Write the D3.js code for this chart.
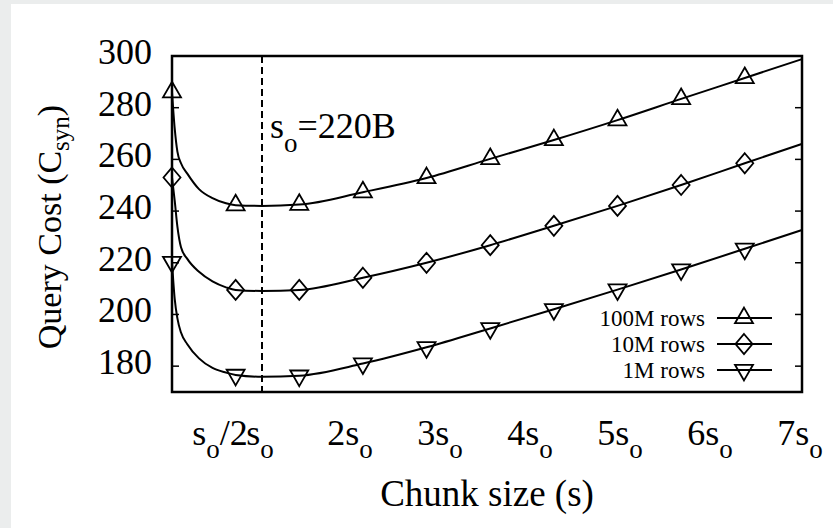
<!DOCTYPE html>
<html>
<head>
<meta charset="utf-8">
<script src="https://cdn.jsdelivr.net/npm/d3@7"></script>
<style>
  html, body { margin: 0; padding: 0; background: #ebeded; }
  svg { display: block; }
  text { font-family: "Liberation Serif", "Times New Roman", serif; fill: #000; }
</style>
</head>
<body>
<svg id="chart" width="833" height="528"></svg>
<script>
// ---- data (x in units of s_o) ----
const xs        = [0, 0.03, 0.06, 0.1, 0.17, 0.3, 0.45, 0.6, 0.707, 1, 1.414, 2.121, 2.828, 3.536, 4.243, 4.95, 5.657, 6.364, 7];
const rows100M  = [286, 272, 263, 258.5, 254.5, 248.5, 245, 243, 242.3, 242, 242.5, 247.3, 252.8, 260.2, 267.5, 275.2, 283.4, 291.5, 298.8];
const rows10M   = [253, 244, 234, 226, 221.5, 216.5, 212.8, 210.5, 209.5, 209.1, 209.5, 214.2, 220, 226.8, 234.3, 242, 250.1, 258.5, 266];
const rows1M    = [220.3, 206, 198.5, 193, 188.5, 183, 179.3, 177.5, 176.6, 175.9, 176.3, 181, 187.3, 194.6, 202, 209.6, 217.4, 225.4, 232.7];
const markerXs  = [0, 0.707, 1.414, 2.121, 2.828, 3.536, 4.243, 4.95, 5.657, 6.364];
const seriesNames = ["100M rows", "10M rows", "1M rows"];
const yTicks    = [180, 200, 220, 240, 260, 280, 300];
const xTickVals = [0.5, 1, 2, 3, 4, 5, 6, 7];
const xTickMain = ["s", "s", "2s", "3s", "4s", "5s", "6s", "7s"];
const xTickSub  = ["o", "o", "o", "o", "o", "o", "o", "o"];
const xTickTail = ["/2", "", "", "", "", "", "", ""];
const soValue   = 1;     // s_o marker line
const soLabel   = "220B";

const svg = d3.select("#chart");
// white panel
svg.append("rect").attr("x", 11).attr("y", 4).attr("width", 822).attr("height", 524).attr("fill", "#ffffff");

const L = 172, R = 802, T = 56, B = 392;
const x = d3.scaleLinear().domain([0, 7]).range([L, R]);
const y = d3.scaleLinear().domain([170, 300]).range([B, T]);

// y tick marks (inward, left and right)
const innerTicks = yTicks.filter(v => v < 300);
svg.append("g").selectAll("line").data(innerTicks).join("line")
  .attr("x1", L).attr("x2", L + 7).attr("y1", d => y(d)).attr("y2", d => y(d))
  .attr("stroke", "#000").attr("stroke-width", 1.5);
svg.append("g").selectAll("line").data(innerTicks).join("line")
  .attr("x1", R).attr("x2", R - 7).attr("y1", d => y(d)).attr("y2", d => y(d))
  .attr("stroke", "#000").attr("stroke-width", 1.5);

// y tick labels
svg.append("g").selectAll("text").data(yTicks).join("text")
  .attr("x", 152).attr("y", d => y(d) + 8)
  .attr("text-anchor", "end").attr("font-size", 36)
  .text(d => d);

// x tick labels with subscript
const xt = svg.append("g").selectAll("text").data(xTickVals).join("text")
  .attr("x", (d, i) => x(d) + (xTickTail[i] ? 3 : -2)).attr("y", 445)
  .attr("text-anchor", "middle").attr("font-size", 36);
xt.append("tspan").text((d, i) => xTickMain[i]);
xt.append("tspan").attr("font-size", 27).attr("dy", 13).text((d, i) => xTickSub[i]);
xt.append("tspan").attr("dy", -13).text((d, i) => xTickTail[i]);

// dashed s_o line
svg.append("line")
  .attr("x1", x(soValue)).attr("x2", x(soValue)).attr("y1", T).attr("y2", B)
  .attr("stroke", "#000").attr("stroke-width", 2).attr("stroke-dasharray", "7,4");

// annotation
const ann = svg.append("text").attr("x", x(soValue) + 8).attr("y", 138).attr("font-size", 36);
ann.append("tspan").text("s");
ann.append("tspan").attr("font-size", 27).attr("dy", 14).text("o");
ann.append("tspan").attr("dy", -14).text("=" + soLabel);

// curves
const allSeries = [rows100M, rows10M, rows1M];
const line = d3.line().x(d => x(d[0])).y(d => y(d[1])).curve(d3.curveMonotoneX);
svg.append("clipPath").attr("id", "pc").append("rect")
  .attr("x", L - 12).attr("y", T - 1).attr("width", R - L + 13).attr("height", B - T + 2);

const markerPaths = [
  "M0,-10.4L9,5.2L-9,5.2Z",   // up triangle (centroid at 0)
  "M0,-10L8.5,0L0,10L-8.5,0Z", // diamond
  "M0,10.4L9,-5.2L-9,-5.2Z"   // down triangle
];

allSeries.forEach((vals, si) => {
  const pts = xs.map((xv, i) => [xv, vals[i]]);
  svg.append("path").attr("d", line(pts))
    .attr("fill", "none").attr("stroke", "#000").attr("stroke-width", 2)
    .attr("clip-path", "url(#pc)");
  const mpts = pts.filter(p => markerXs.includes(p[0]));
  svg.append("g").selectAll("path").data(mpts).join("path")
    .attr("transform", d => `translate(${x(d[0])},${y(d[1])})`)
    .attr("d", markerPaths[si])
    .attr("fill", "none").attr("stroke", "#000").attr("stroke-width", 1.8);
});

// frame
svg.append("rect").attr("x", L).attr("y", T).attr("width", R - L).attr("height", B - T)
  .attr("fill", "none").attr("stroke", "#000").attr("stroke-width", 2.5);

// legend
const legY = [318, 344, 370];
seriesNames.forEach((name, i) => {
  svg.append("text").attr("x", 705).attr("y", legY[i] + 8)
    .attr("text-anchor", "end").attr("font-size", 23).text(name);
  svg.append("line").attr("x1", 717).attr("x2", 772).attr("y1", legY[i]).attr("y2", legY[i])
    .attr("stroke", "#000").attr("stroke-width", 2);
  svg.append("path").attr("transform", `translate(744,${legY[i]})`)
    .attr("d", markerPaths[i]).attr("fill", "none").attr("stroke", "#000").attr("stroke-width", 1.8);
});

// axis titles
svg.append("text").attr("x", (L + R) / 2).attr("y", 506)
  .attr("text-anchor", "middle").attr("font-size", 37).text("Chunk size (s)");

const yt = svg.append("text")
  .attr("transform", `translate(61,${(T + B) / 2 + 3}) rotate(-90)`)
  .attr("text-anchor", "middle").attr("font-size", 34);
yt.append("tspan").text("Query Cost (C");
yt.append("tspan").attr("font-size", 25).attr("dy", 8).text("syn");
yt.append("tspan").attr("dy", -8).text(")");
</script>
</body>
</html>
